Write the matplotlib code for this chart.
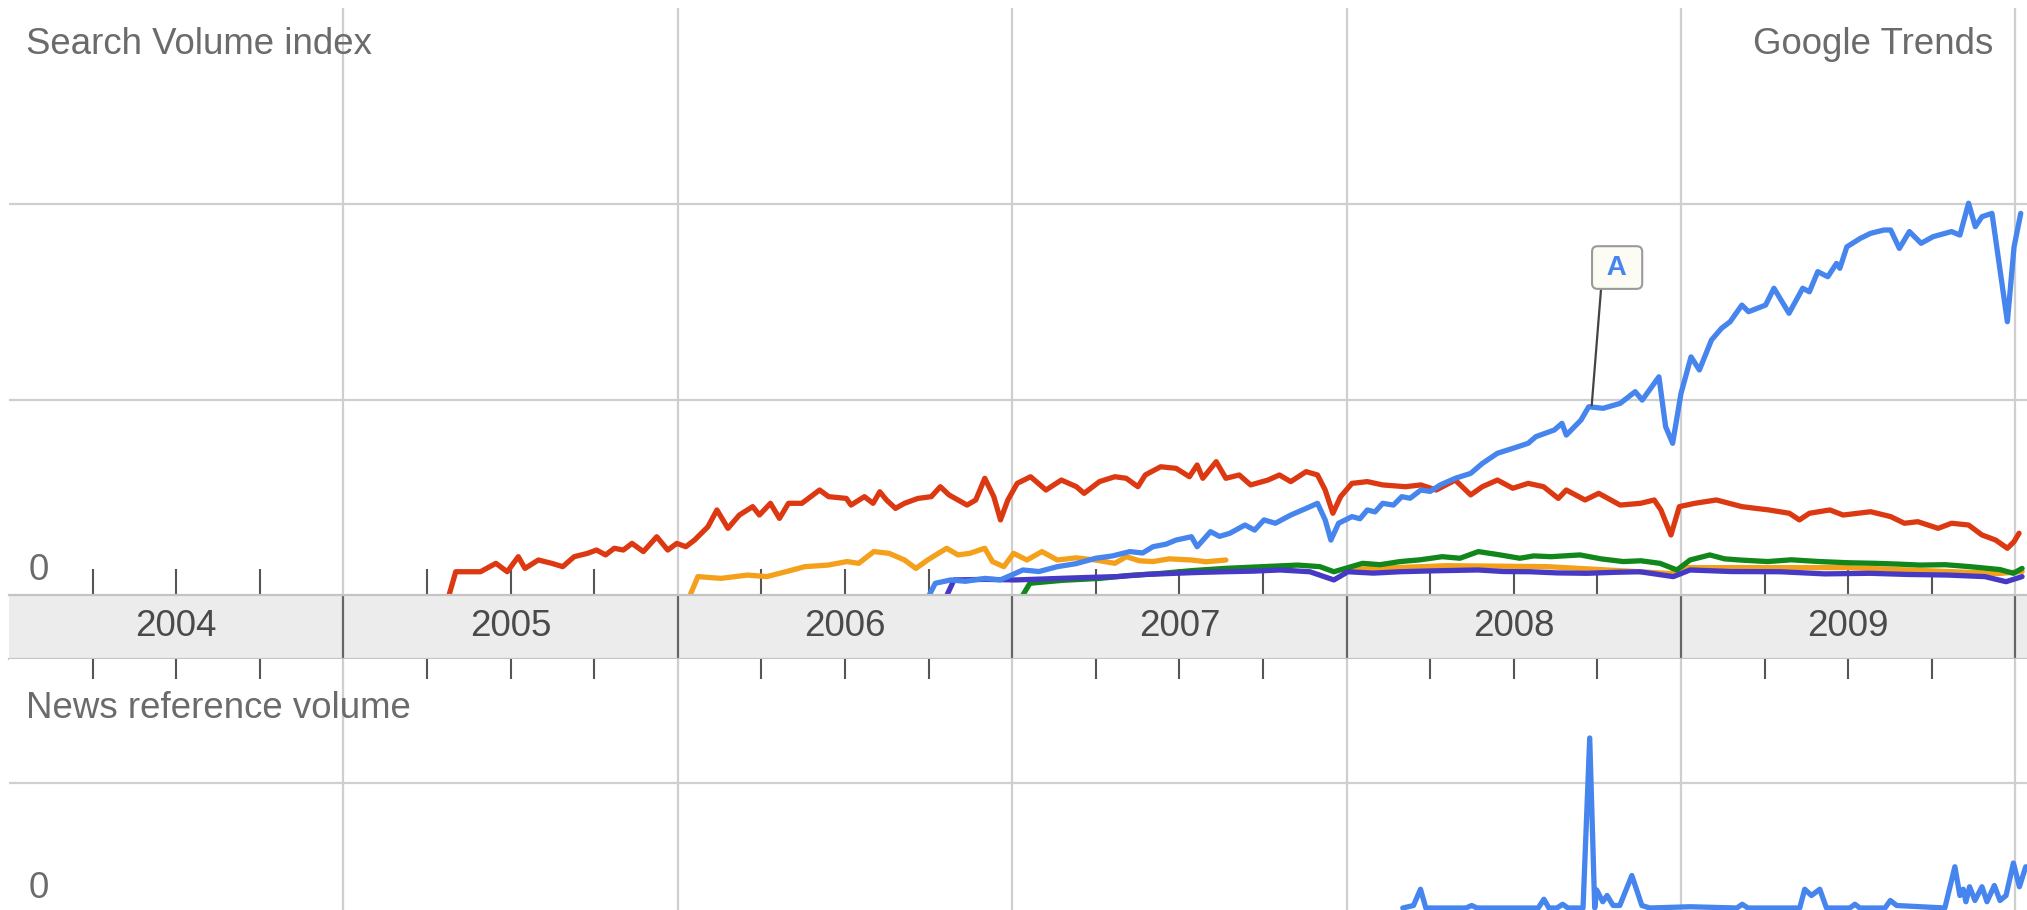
import matplotlib.pyplot as plt

plt.rcParams['font.family'] = ['Liberation Sans', 'DejaVu Sans']

# Target picture size in pixels
W, H = 2027, 910

# Axis labels / years
YEAR_EDGES = [2005, 2006, 2007, 2008, 2009, 2010]
YEAR_LABELS = ['2004', '2005', '2006', '2007', '2008', '2009']
YEAR_CENTERS = [2004.5, 2005.5, 2006.5, 2007.5, 2008.5, 2009.5]
QUARTERS = [y + q for y in range(2004, 2010) for q in (0.25, 0.5, 0.75)]

# Search volume index series (gridline = 1.0)
red_years = [2005.316, 2005.336, 2005.41, 2005.456, 2005.49, 2005.523, 2005.543, 2005.583,
             2005.623, 2005.656, 2005.69, 2005.73, 2005.757, 2005.784, 2005.81, 2005.837,
             2005.863, 2005.897, 2005.937, 2005.97, 2005.997, 2006.024, 2006.05, 2006.09,
             2006.117, 2006.15, 2006.184, 2006.224, 2006.244, 2006.277, 2006.304, 2006.331,
             2006.371, 2006.424, 2006.451, 2006.504, 2006.518, 2006.558, 2006.584, 2006.604,
             2006.624, 2006.651, 2006.678, 2006.718, 2006.758, 2006.785, 2006.811, 2006.865,
             2006.891, 2006.918, 2006.945, 2006.965, 2006.987, 2007.015, 2007.055, 2007.101,
             2007.147, 2007.192, 2007.215, 2007.261, 2007.307, 2007.341, 2007.376, 2007.398,
             2007.444, 2007.49, 2007.53, 2007.553, 2007.57, 2007.61, 2007.639, 2007.679,
             2007.713, 2007.765, 2007.799, 2007.833, 2007.879, 2007.913, 2007.936, 2007.959,
             2007.982, 2008.016, 2008.062, 2008.108, 2008.176, 2008.222, 2008.268, 2008.325,
             2008.371, 2008.406, 2008.451, 2008.497, 2008.543, 2008.589, 2008.633, 2008.657,
             2008.713, 2008.754, 2008.818, 2008.879, 2008.92, 2008.94, 2008.97, 2008.995,
             2009.041, 2009.106, 2009.182, 2009.263, 2009.324, 2009.354, 2009.384, 2009.445,
             2009.485, 2009.567, 2009.627, 2009.668, 2009.708, 2009.769, 2009.809, 2009.86,
             2009.9, 2009.941, 2009.976, 2009.996, 2010.011]
red_values = [0.0, 0.119, 0.119, 0.162, 0.119, 0.196, 0.136, 0.179,
              0.162, 0.145, 0.196, 0.213, 0.23, 0.205, 0.239, 0.23,
              0.264, 0.222, 0.298, 0.23, 0.264, 0.247, 0.281, 0.349,
              0.435, 0.341, 0.409, 0.452, 0.409, 0.469, 0.392, 0.469,
              0.469, 0.537, 0.503, 0.494, 0.46, 0.503, 0.469, 0.528,
              0.486, 0.443, 0.469, 0.494, 0.503, 0.554, 0.512, 0.46,
              0.486, 0.597, 0.503, 0.384, 0.486, 0.571, 0.605, 0.537,
              0.588, 0.554, 0.52, 0.58, 0.605, 0.597, 0.554, 0.614,
              0.656, 0.648, 0.605, 0.665, 0.597, 0.682, 0.597, 0.614,
              0.563, 0.588, 0.614, 0.58, 0.631, 0.614, 0.537, 0.418,
              0.503, 0.571, 0.58, 0.563, 0.554, 0.563, 0.537, 0.588,
              0.512, 0.554, 0.588, 0.546, 0.571, 0.554, 0.494, 0.537,
              0.486, 0.52, 0.46, 0.469, 0.486, 0.435, 0.307, 0.452,
              0.469, 0.486, 0.452, 0.435, 0.418, 0.384, 0.418, 0.435,
              0.409, 0.426, 0.401, 0.367, 0.375, 0.341, 0.367, 0.358,
              0.307, 0.281, 0.239, 0.273, 0.316]

blue_years = [2006.752, 2006.77, 2006.792, 2006.816, 2006.86, 2006.919, 2006.964, 2006.998,
              2007.032, 2007.08, 2007.135, 2007.19, 2007.25, 2007.3, 2007.352, 2007.39,
              2007.421, 2007.46, 2007.49, 2007.536, 2007.553, 2007.593, 2007.62,
              2007.65, 2007.696, 2007.725, 2007.753, 2007.787, 2007.833, 2007.879, 2007.913,
              2007.936, 2007.953, 2007.976, 2008.016, 2008.04, 2008.062, 2008.085, 2008.108,
              2008.14, 2008.165, 2008.19, 2008.222, 2008.25,
              2008.28, 2008.325, 2008.371, 2008.406, 2008.451, 2008.497, 2008.543, 2008.566,
              2008.621, 2008.644, 2008.657, 2008.701, 2008.724, 2008.767, 2008.818, 2008.863,
              2008.884, 2008.934, 2008.954, 2008.975, 2009.0, 2009.03, 2009.055, 2009.091,
              2009.121, 2009.147, 2009.182, 2009.202, 2009.253, 2009.278, 2009.323, 2009.364,
              2009.384, 2009.409, 2009.439, 2009.465, 2009.475, 2009.496, 2009.536, 2009.567,
              2009.607, 2009.627, 2009.653, 2009.683, 2009.718, 2009.754, 2009.809, 2009.834,
              2009.86, 2009.88, 2009.9, 2009.93, 2009.976, 2009.996, 2010.016]
blue_values = [0.0, 0.06, 0.068, 0.077, 0.07, 0.085, 0.077, 0.102,
               0.128, 0.12, 0.145, 0.16, 0.188, 0.2, 0.222, 0.215,
               0.247, 0.26, 0.281, 0.298, 0.247, 0.324, 0.3,
               0.315, 0.358, 0.332, 0.384, 0.367, 0.409, 0.443, 0.469,
               0.384, 0.281, 0.367, 0.401, 0.39, 0.435, 0.425, 0.469,
               0.46, 0.503, 0.495, 0.537, 0.53,
               0.563, 0.597, 0.622, 0.673, 0.725, 0.75, 0.776, 0.81,
               0.844, 0.878, 0.818, 0.895, 0.963, 0.955, 0.98, 1.04,
               0.997, 1.116, 0.861, 0.776, 1.031, 1.218, 1.151, 1.304,
               1.364, 1.398, 1.483, 1.449, 1.483, 1.569, 1.441, 1.569,
               1.551, 1.654, 1.628, 1.696, 1.671, 1.781, 1.824, 1.85,
               1.867, 1.867, 1.773, 1.859, 1.799, 1.833, 1.859, 1.841,
               2.004, 1.884, 1.935, 1.952, 1.398, 1.781, 1.952]

orange_years = [2006.037, 2006.06, 2006.129, 2006.209, 2006.266, 2006.323, 2006.38, 2006.449,
                2006.506, 2006.541, 2006.586, 2006.632, 2006.678, 2006.712, 2006.747, 2006.804,
                2006.838, 2006.873, 2006.918, 2006.941, 2006.975, 2007.004, 2007.044, 2007.089,
                2007.135, 2007.19, 2007.25, 2007.307, 2007.341, 2007.38, 2007.421, 2007.47,
                2007.536, 2007.58, 2007.639]
orange_values = [0.0, 0.094, 0.085, 0.102, 0.094, 0.119, 0.145, 0.153,
                 0.171, 0.162, 0.222, 0.213, 0.179, 0.136, 0.179, 0.239,
                 0.205, 0.213, 0.239, 0.171, 0.145, 0.213, 0.179, 0.222,
                 0.179, 0.19, 0.179, 0.162, 0.196, 0.175, 0.171, 0.185,
                 0.179, 0.17, 0.179]

# orange comes back later, mostly hidden under green and purple
orange_late_years = [2007.99, 2008.3, 2008.6, 2008.97, 2009.0, 2009.5, 2009.95, 2010.02]
orange_late_values = [0.13, 0.15, 0.145, 0.11, 0.14, 0.14, 0.11, 0.12]

green_years = [2007.032, 2007.053, 2007.15, 2007.262, 2007.35, 2007.442, 2007.54, 2007.636,
               2007.75, 2007.854, 2007.92, 2007.962,
               2008.048, 2008.1, 2008.16, 2008.22, 2008.286, 2008.339, 2008.394, 2008.459,
               2008.518, 2008.56, 2008.611,
               2008.698, 2008.76, 2008.827, 2008.88, 2008.937, 2008.988, 2009.027, 2009.086,
               2009.13, 2009.176, 2009.259,
               2009.33, 2009.415, 2009.5, 2009.583, 2009.65, 2009.715, 2009.79, 2009.864,
               2009.954, 2009.994, 2010.02]
green_values = [0.0, 0.06, 0.075, 0.085, 0.1, 0.11, 0.125, 0.136,
                0.145, 0.153, 0.145, 0.119,
                0.162, 0.155, 0.171, 0.18, 0.196, 0.188, 0.222, 0.205,
                0.188, 0.2, 0.196,
                0.205, 0.185, 0.171, 0.175, 0.162, 0.128, 0.179, 0.205,
                0.185, 0.179, 0.171,
                0.18, 0.171, 0.165, 0.162, 0.158, 0.153, 0.155, 0.145,
                0.13, 0.111, 0.136]

purple_years = [2006.805, 2006.826, 2006.92, 2007.01, 2007.143, 2007.23, 2007.313, 2007.4,
                2007.472, 2007.55, 2007.636, 2007.72, 2007.801,
                2007.89, 2007.962, 2008.004, 2008.08, 2008.16, 2008.27, 2008.393, 2008.47,
                2008.548, 2008.63, 2008.719, 2008.8, 2008.877,
                2008.977, 2009.027, 2009.15, 2009.296, 2009.43, 2009.565, 2009.68, 2009.798,
                2009.909, 2009.972, 2010.02]
purple_values = [0.0, 0.077, 0.08, 0.077, 0.085, 0.09, 0.094, 0.105,
                 0.11, 0.115, 0.119, 0.122, 0.128,
                 0.119, 0.077, 0.119, 0.112, 0.119, 0.124, 0.128, 0.12,
                 0.119, 0.113, 0.111, 0.116, 0.119,
                 0.094, 0.128, 0.12, 0.119, 0.108, 0.111, 0.105, 0.102,
                 0.094, 0.068, 0.094]

# News reference volume (gridline = 1.0)
news_years = [2008.168, 2008.2, 2008.221, 2008.237, 2008.357, 2008.374, 2008.39, 2008.573,
              2008.59, 2008.605, 2008.629, 2008.646, 2008.662, 2008.707, 2008.727, 2008.742,
              2008.748, 2008.766, 2008.779, 2008.797, 2008.817, 2008.853, 2008.883, 2008.907,
              2009.027, 2009.167, 2009.183, 2009.2, 2009.355, 2009.37, 2009.39, 2009.415,
              2009.435, 2009.505, 2009.52, 2009.535, 2009.61, 2009.626, 2009.645, 2009.789,
              2009.819, 2009.834, 2009.844, 2009.852, 2009.863, 2009.879, 2009.9, 2009.915,
              2009.937, 2009.954, 2009.972, 2009.994, 2010.012, 2010.031]
news_values = [0.0, 0.02, 0.15, 0.0, 0.0, 0.02, 0.0, 0.0,
               0.07, 0.0, 0.0, 0.03, 0.0, 0.0, 1.36, 0.0,
               0.144, 0.05, 0.1, 0.02, 0.02, 0.26, 0.02, 0.0,
               0.01, 0.0, 0.03, 0.0, 0.0, 0.15, 0.1, 0.15,
               0.0, 0.0, 0.03, 0.0, 0.0, 0.06, 0.02, 0.0,
               0.33, 0.1, 0.15, 0.05, 0.17, 0.06, 0.17, 0.05,
               0.18, 0.06, 0.1, 0.36, 0.17, 0.33]

BLUE = '#4684ee'
RED = '#dc3912'
ORANGE = '#f5a01a'
GREEN = '#11861a'
PURPLE = '#4539c6'
GRID = '#cfcfcf'
TEXT = '#6b6b6b'
LW = 3.8
XLIM = (2004.0, 2004.0 + (W - 9) / 334.4)


def box(x0, y0, x1, y1):
    """pixel box (top-left origin) -> figure fraction rect"""
    return [x0 / W, 1 - y1 / H, (x1 - x0) / W, (y1 - y0) / H]


def styleAxes(ax):
    for s in ax.spines.values():
        s.set_visible(False)
    ax.set_xlim(*XLIM)
    ax.set_xticks(YEAR_EDGES)
    ax.set_xticks(QUARTERS, minor=True)
    ax.tick_params(axis='y', length=0, labelleft=False)
    ax.grid(True, which='major', color=GRID, linewidth=1.6)
    ax.set_axisbelow(True)


def plotLine(ax, xs, ys, color, z):
    ax.plot(xs, ys, color=color, lw=LW, solid_joinstyle='round', solid_capstyle='round', zorder=z)


fig = plt.figure(figsize=(W / 100, H / 100), dpi=100)

# top panel: search volume index
axTop = fig.add_axes(box(9, 8, W, 595))
styleAxes(axTop)
axTop.set_ylim(0, 587 / 195.5)
axTop.set_yticks([1, 2])
axTop.tick_params(axis='x', which='both', labelbottom=False, labeltop=False)
axTop.tick_params(axis='x', which='major', length=0)
axTop.tick_params(axis='x', which='minor', direction='in', length=18.5, width=1.5,
                  color='#555555', bottom=True, top=False)

plotLine(axTop, orange_late_years, orange_late_values, ORANGE, 2)
plotLine(axTop, orange_years, orange_values, ORANGE, 2)
plotLine(axTop, red_years, red_values, RED, 3)
plotLine(axTop, green_years, green_values, GREEN, 4)
plotLine(axTop, purple_years, purple_values, PURPLE, 5)
plotLine(axTop, blue_years, blue_values, BLUE, 6)

# event flag "A"
axTop.annotate(' A ', xy=(2008.733, 0.97), xytext=(2008.809, 1.675), textcoords='data',
               ha='center', va='center', fontsize=20, fontweight='bold', color=BLUE,
               bbox=dict(boxstyle='round,pad=0.3,rounding_size=0.2', fc='#fcfcf5', ec='#9a9a9a', lw=1.5),
               arrowprops=dict(arrowstyle='-', color='#444444', lw=1.6, relpos=(0.04, 0.0),
                               shrinkA=0, shrinkB=0),
               zorder=10)

# gray date band
axBand = fig.add_axes(box(9, 595, W, 659))
axBand.set_facecolor('#ececec')
axBand.set_xlim(*XLIM)
axBand.set_ylim(0, 1)
for side in ('left', 'right'):
    axBand.spines[side].set_visible(False)
for side in ('top', 'bottom'):
    axBand.spines[side].set_color('#c4c4c4')
    axBand.spines[side].set_linewidth(1.6)
axBand.set_xticks(YEAR_EDGES)
axBand.set_yticks([])
axBand.tick_params(axis='x', length=0, labelbottom=False, labeltop=False)
axBand.grid(True, axis='x', color='#666666', linewidth=1.6)
for xc, label in zip(YEAR_CENTERS, YEAR_LABELS):
    axBand.text(xc, 0.5, label, ha='center', va='center', fontsize=26.5, color='#4a4a4a',
                transform=axBand.get_xaxis_transform())

# bottom panel: news reference volume
axNews = fig.add_axes(box(9, 659, W, H))
styleAxes(axNews)
axNews.set_ylim(-2 / 125, 249 / 125)
axNews.set_yticks([1])
axNews.xaxis.set_ticks_position('top')
axNews.tick_params(axis='x', which='both', labelbottom=False, labeltop=False)
axNews.tick_params(axis='x', which='major', length=0)
axNews.tick_params(axis='x', which='minor', direction='in', length=14.5, width=1.5,
                   color='#555555', top=True, bottom=False)
plotLine(axNews, news_years, news_values, BLUE, 3)

# texts
fig.text(26 / W, 1 - 45 / H, 'Search Volume index', fontsize=26.4, color=TEXT, ha='left', va='center')
fig.text(1993 / W, 1 - 45 / H, 'Google Trends', fontsize=26.4, color=TEXT, ha='right', va='center')
fig.text(26 / W, 1 - 708 / H, 'News reference volume', fontsize=26.4, color=TEXT, ha='left', va='center')
fig.text(29 / W, 1 - 570 / H, '0', fontsize=26.4, color=TEXT, ha='left', va='center')
fig.text(29 / W, 1 - 888 / H, '0', fontsize=26.4, color=TEXT, ha='left', va='center')

fig.savefig('out.png', dpi=100, facecolor='white')
